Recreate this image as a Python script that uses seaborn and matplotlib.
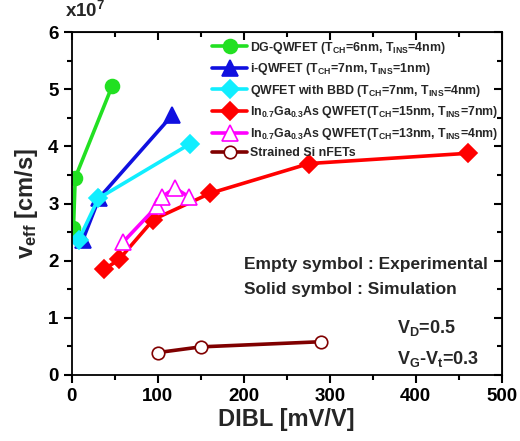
import seaborn as sns
import matplotlib.pyplot as plt
import pandas as pd

# DIBL [mV/V] vs v_eff [x1e7 cm/s]
dg_x = [2, 4, 47]
dg_y = [2.57, 3.45, 5.06]
iq_x = [13, 32, 117]
iq_y = [2.37, 3.10, 4.55]
bbd_x = [8, 31, 137]
bbd_y = [2.36, 3.09, 4.04]
in15_x = [38, 55, 95, 161, 276, 461]
in15_y = [1.85, 2.02, 2.72, 3.18, 3.70, 3.88]
in13_x = [60, 99, 105, 120, 136]
in13_y = [2.33, 2.95, 3.12, 3.27, 3.12]
si_x = [100, 150, 290]
si_y = [0.39, 0.49, 0.58]

labels = [
    "DG-QWFET (T$_{CH}$=6nm, T$_{INS}$=4nm)",
    "i-QWFET (T$_{CH}$=7nm, T$_{INS}$=1nm)",
    "QWFET with BBD (T$_{CH}$=7nm, T$_{INS}$=4nm)",
    "In$_{0.7}$Ga$_{0.3}$As QWFET(T$_{CH}$=15nm, T$_{INS}$=7nm)",
    "In$_{0.7}$Ga$_{0.3}$As QWFET(T$_{CH}$=13nm, T$_{INS}$=4nm)",
    "Strained Si nFETs",
]

sns.set_style("ticks")
plt.rcParams["font.family"] = ["Liberation Sans", "DejaVu Sans"]
plt.rcParams["font.weight"] = "bold"
plt.rcParams["mathtext.default"] = "regular"

fig = plt.figure(figsize=(5.2, 4.41), dpi=100)
ax = fig.add_axes([0.138, 0.150, 0.827, 0.777])

series = [
    (dg_x, dg_y, "#22e022", "o", 10, False),
    (iq_x, iq_y, "#1010e0", "^", 11, False),
    (bbd_x, bbd_y, "#11eeff", "D", 9, False),
    (in15_x, in15_y, "#ff0000", "D", 9, False),
    (in13_x, in13_y, "#ff00ff", "^", 11, True),
    (si_x, si_y, "#800000", "o", 9, True),
]

for (xs, ys, col, mk, ms, empty), lab in zip(series, labels):
    df = pd.DataFrame({"DIBL": xs, "veff": ys})
    sns.lineplot(
        data=df, x="DIBL", y="veff", sort=False, ax=ax, color=col, lw=2.6,
        marker=mk, markersize=ms, markeredgecolor=col, markeredgewidth=1.2,
        markerfacecolor="white" if empty else col, label=lab,
    )

ax.set_xlim(0, 500)
ax.set_ylim(0, 6)
ax.set_xticks(range(0, 501, 100))
ax.set_xticks(range(0, 501, 50), minor=True)
ax.set_yticks(range(0, 7))
ax.set_yticks([i * 0.5 for i in range(13)], minor=True)
for s in ax.spines.values():
    s.set_linewidth(1.3)
    s.set_color("black")

ax.set_xlabel("DIBL [mV/V]", fontsize=17, fontweight="bold", labelpad=2)
ax.set_ylabel("v$_{eff}$ [cm/s]", fontsize=17, fontweight="bold", labelpad=6)
fig.text(0.125, 0.975, "x10$^{7}$", fontsize=13.5, fontweight="bold", va="center")

ax.legend(loc="upper left", bbox_to_anchor=(0.31, 1.0), frameon=False,
          prop={"size": 8.9, "weight": "bold"}, handlelength=2.8,
          handletextpad=0.2, labelspacing=0.45, borderaxespad=0.2)

ax.text(200, 1.94, "Empty symbol : Experimental", fontsize=12.5, fontweight="bold", va="center")
ax.text(200, 1.50, "Solid symbol : Simulation", fontsize=12.5, fontweight="bold", va="center")
ax.text(378, 0.82, "V$_{D}$=0.5", fontsize=13, fontweight="bold", va="center")
ax.text(378, 0.27, "V$_{G}$-V$_{t}$=0.3", fontsize=13, fontweight="bold", va="center")

# inward ticks on the top and right edges
ax_top = ax.secondary_xaxis("top")
ax_top.set_xticks(range(0, 501, 100))
ax_top.set_xticks(range(0, 501, 50), minor=True)
ax_top.tick_params(which="both", direction="in", labeltop=False, width=1.5, color="black")
ax_top.tick_params(which="major", length=6)
ax_top.tick_params(which="minor", length=3.5)
ax_right = ax.secondary_yaxis("right")
ax_right.set_yticks(range(0, 7))
ax_right.set_yticks([i * 0.5 for i in range(13)], minor=True)
ax_right.tick_params(which="both", direction="in", labelright=False, width=1.5, color="black")
ax_right.tick_params(which="major", length=6)
ax_right.tick_params(which="minor", length=3.5)

# outward ticks on the bottom and left edges
ax.tick_params(which="both", labelsize=13.5, width=1.5, color="black",
               labelcolor="black", direction="out")
ax.tick_params(which="major", length=6)
ax.tick_params(which="minor", length=3.5)
for lbl in ax.get_xticklabels() + ax.get_yticklabels():
    lbl.set_fontweight("bold")

fig.canvas.draw()
plt.savefig("out.png", dpi=100)
